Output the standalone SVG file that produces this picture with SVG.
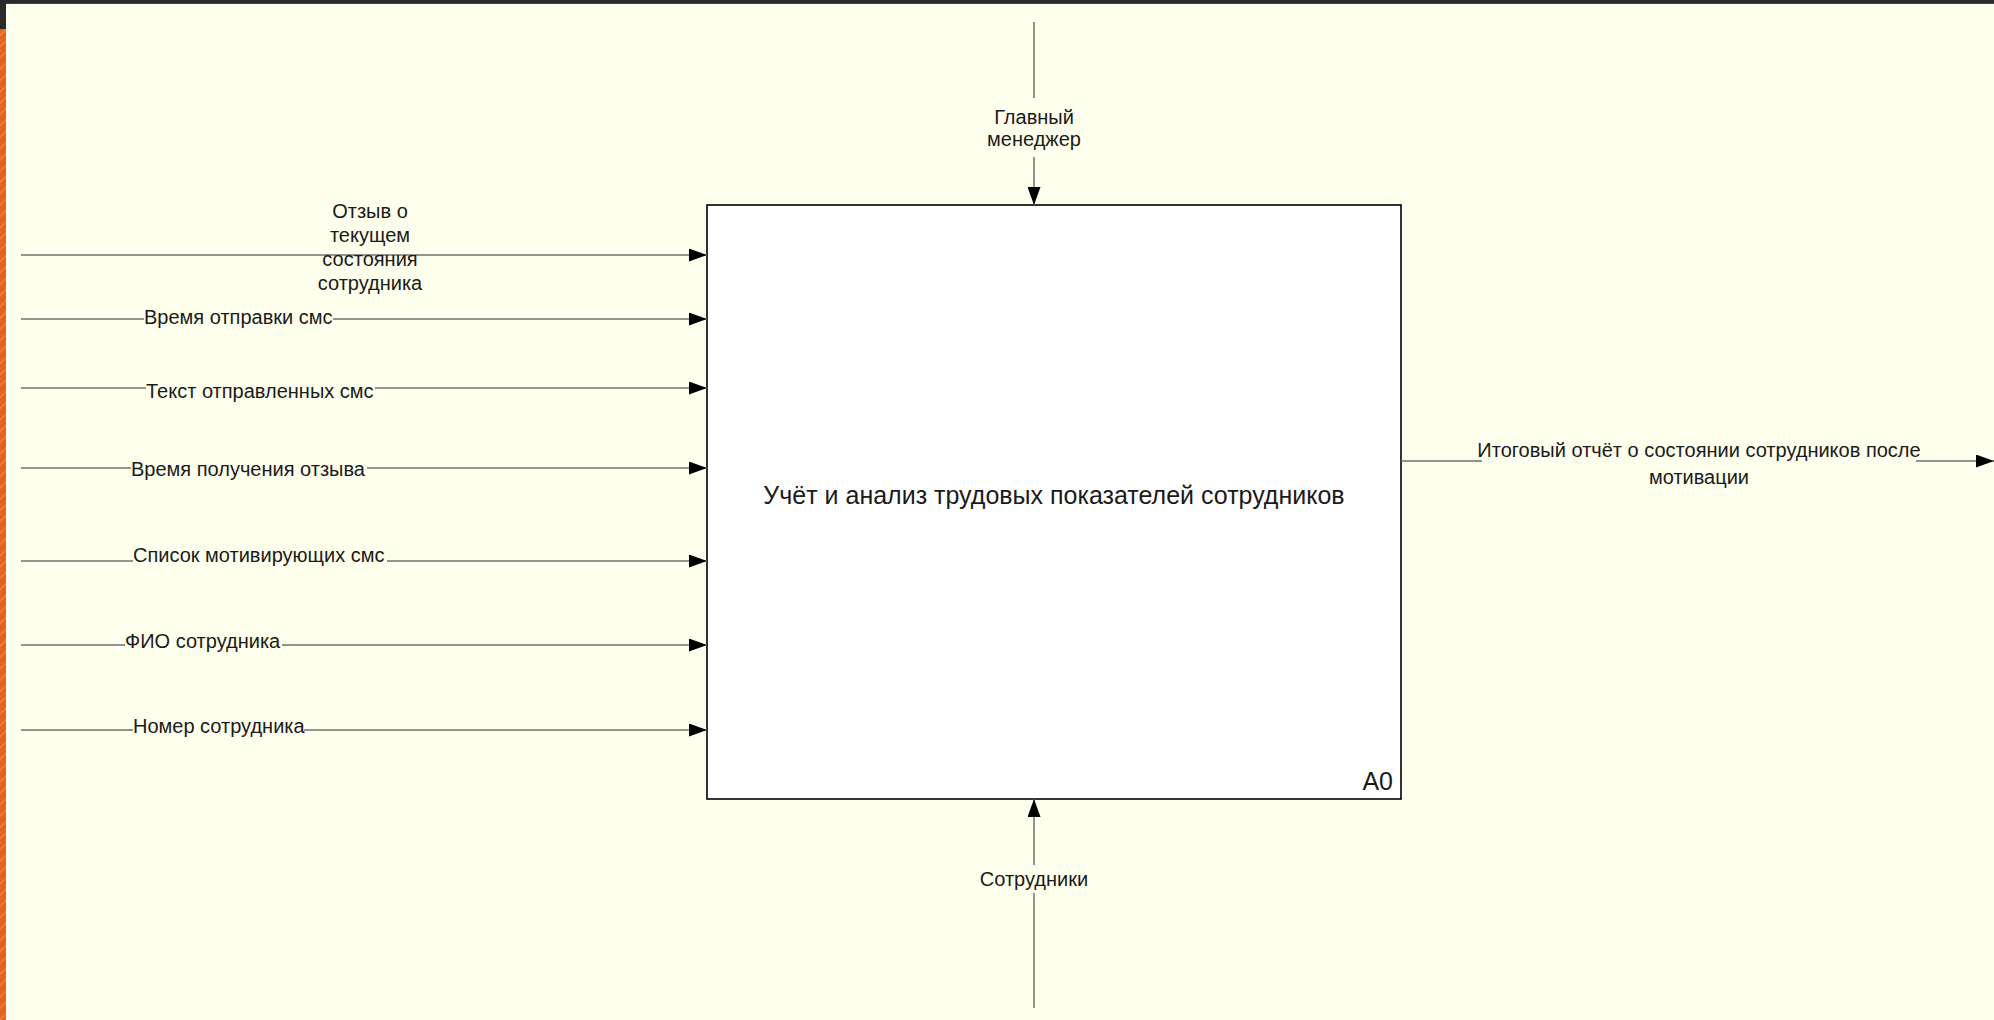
<svg xmlns="http://www.w3.org/2000/svg" width="1994" height="1020" viewBox="0 0 1994 1020">
<style>
.lbl{font-family:"Liberation Sans",Arial,sans-serif;font-size:20px;fill:#1a1a1a}
.ttl{font-family:"Liberation Sans",Arial,sans-serif;font-size:25px;fill:#1a1a1a}
.con{fill:none;stroke:#707070;stroke-width:1.5}
.box{fill:#ffffff;stroke:#000;stroke-width:1.6}
</style>
<defs>
<marker id="arr" viewBox="0 0 18 13" refX="18" refY="6.5" markerWidth="18" markerHeight="13" markerUnits="userSpaceOnUse" orient="auto">
<path d="M0,0 L18,6.5 L0,13 z" fill="#000"/>
</marker>
<pattern id="stripes" width="8" height="8" patternUnits="userSpaceOnUse" patternTransform="rotate(45)">
<rect width="8" height="8" fill="#e2641c"/>
<rect width="2" height="8" fill="#ec7a36"/>
</pattern>
</defs>
<rect x="0" y="0" width="1994" height="1020" fill="#ffffee"/>
<rect x="0" y="0" width="1994" height="3" fill="#2a2a2a"/>
<rect x="0" y="3" width="1994" height="0.8" fill="#111"/>
<rect x="0" y="0" width="6" height="29" fill="#2a2a2a"/>
<rect x="0" y="29" width="6" height="991" fill="url(#stripes)"/>

<g id="A0">
<rect class="box" x="707" y="205" width="694" height="594"/>
<text class="ttl" x="1054" y="504" text-anchor="middle">Учёт и анализ трудовых показателей сотрудников</text>
<text class="ttl" x="1393" y="790" text-anchor="end">A0</text>
</g>

<g id="connectors">
<path class="con" d="M21,255 L707,255" marker-end="url(#arr)"/>
<path class="con" d="M21,319 L144,319 M333,319 L707,319" marker-end="url(#arr)"/>
<path class="con" d="M21,388 L146,388 M375,388 L707,388" marker-end="url(#arr)"/>
<path class="con" d="M21,468 L131,468 M367,468 L707,468" marker-end="url(#arr)"/>
<path class="con" d="M21,561 L133,561 M387,561 L707,561" marker-end="url(#arr)"/>
<path class="con" d="M21,645 L125,645 M282,645 L707,645" marker-end="url(#arr)"/>
<path class="con" d="M21,730 L133,730 M304,730 L707,730" marker-end="url(#arr)"/>
<path class="con" d="M1034,22 L1034,98 M1034,157 L1034,205" marker-end="url(#arr)"/>
<path class="con" d="M1034,1008 L1034,893 M1034,865 L1034,799" marker-end="url(#arr)"/>
<path class="con" d="M1401,461 L1482,461 M1916,461 L1994,461" marker-end="url(#arr)"/>
</g>

<g id="labels">
<text class="lbl" text-anchor="middle" x="370"><tspan x="370" y="218">Отзыв о</tspan><tspan x="370" y="242">текущем</tspan><tspan x="370" y="266">состояния</tspan><tspan x="370" y="290">сотрудника</tspan></text>
<text class="lbl" x="144" y="324">Время отправки смс</text>
<text class="lbl" x="146" y="398">Текст отправленных смс</text>
<text class="lbl" x="131" y="476">Время получения отзыва</text>
<text class="lbl" x="133" y="562">Список мотивирующих смс</text>
<text class="lbl" x="125" y="648">ФИО сотрудника</text>
<text class="lbl" x="133" y="733">Номер сотрудника</text>
<text class="lbl" text-anchor="middle"><tspan x="1034" y="124">Главный</tspan><tspan x="1034" y="146">менеджер</tspan></text>
<text class="lbl" x="1034" y="886" text-anchor="middle">Сотрудники</text>
<text class="lbl" text-anchor="middle"><tspan x="1699" y="457">Итоговый отчёт о состоянии сотрудников после</tspan><tspan x="1699" y="484">мотивации</tspan></text>
</g>
</svg>
